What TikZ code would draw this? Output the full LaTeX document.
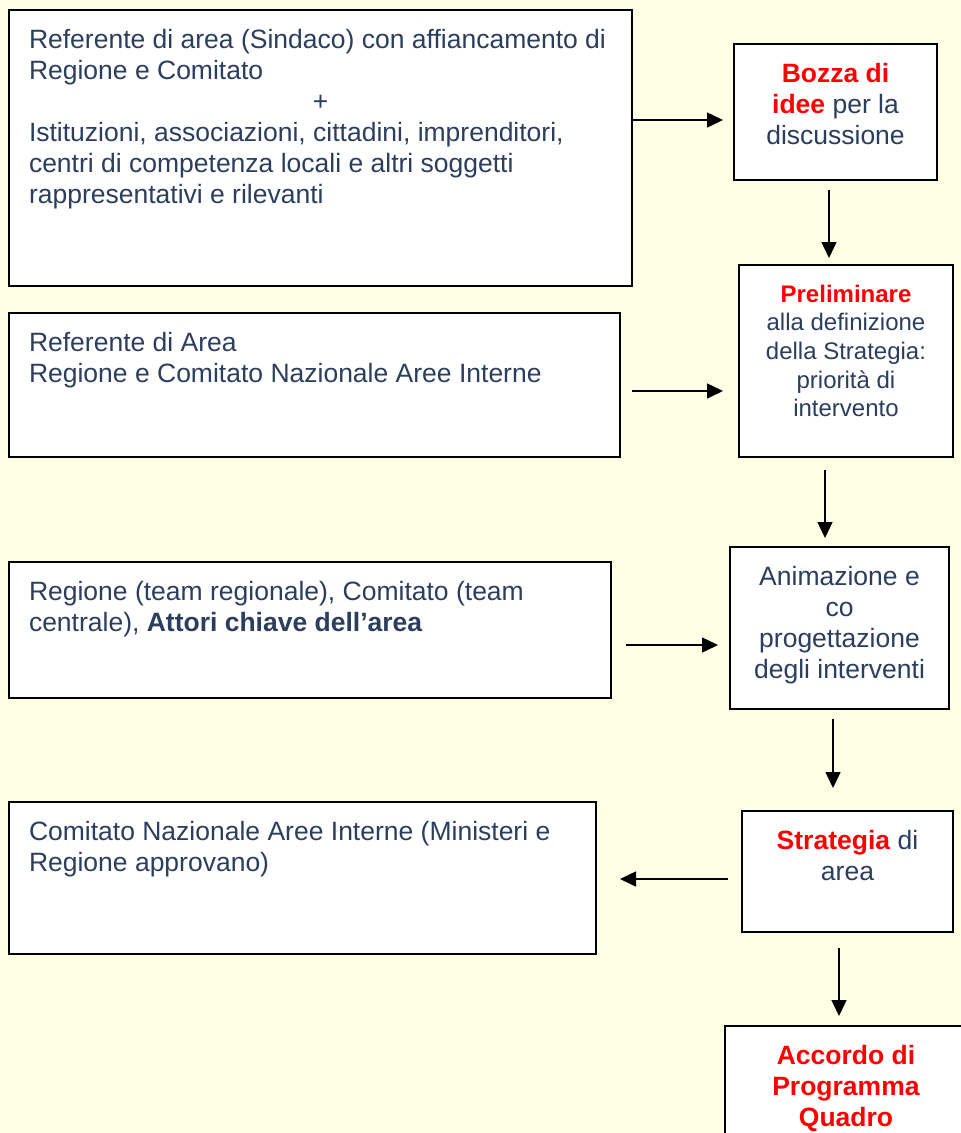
\documentclass[tikz,border=0pt]{standalone}
\usepackage{fontspec}
\setmainfont{Liberation Sans}
\usetikzlibrary{arrows.meta}
\definecolor{bgyellow}{RGB}{255,255,229}
\definecolor{txtblue}{RGB}{43,62,94}
\newcommand{\hot}[1]{\textcolor{red}{\textbf{#1}}}
\newcommand{\topstrut}{\rule{0pt}{\dimexpr0.7\baselineskip+2pt\relax}}
\newcommand{\lefttext}[3]{\parbox[t][#2][t]{#1}{\raggedright\topstrut#3}}
\newcommand{\midtext}[3]{\parbox[t][#2][t]{#1}{\centering\topstrut#3}}

\begin{document}
\begin{tikzpicture}[x=1pt, y=-1pt,
  box/.style={draw, line width=1.8pt, fill=white, anchor=north west, outer sep=0pt,
    inner xsep=20pt, inner ysep=15pt, text=txtblue, font=\fontsize{26.5}{31}\selectfont},
  stepbox/.style={box, inner xsep=10pt},
  arr/.style={-{Triangle[length=16pt,width=15pt]}, line width=1.5pt}]
\useasboundingbox (0,0) rectangle (961,1133);
\fill[bgyellow] (0,0) rectangle (961,1133);

% who takes part
\node[box] (actors) at (9,10) {\lefttext{583pt}{246pt}{Referente di area (Sindaco) con affiancamento di\\
Regione e Comitato\\
\makebox[\linewidth]{+}\\
Istituzioni, associazioni, cittadini, imprenditori,\\
centri di competenza locali e altri soggetti\\
rappresentativi e rilevanti}};
\node[box] (referente) at (9,313) {\lefttext{571pt}{114pt}{Referente di Area\\
Regione e Comitato Nazionale Aree Interne}};
\node[box] (teams) at (9,562) {\lefttext{562pt}{106pt}{Regione (team regionale), Comitato (team\\
centrale), \textbf{Attori chiave dell'area}}};
\node[box] (comitato) at (9,802) {\lefttext{547pt}{122pt}{Comitato Nazionale Aree Interne (Ministeri e\\
Regione approvano)}};

% steps
\node[stepbox] (bozza) at (734,44) {\midtext{183pt}{106pt}{\hot{Bozza di}\\
\hot{idee} per la\\
discussione}};
\node[stepbox, font=\fontsize{24}{28.7}\selectfont] (prelim) at (739,265) {\midtext{194pt}{162pt}{\hot{Preliminare}\\
alla definizione\\
della Strategia:\\
priorità di\\
intervento}};
\node[stepbox] (anim) at (730,547) {\midtext{199pt}{132pt}{Animazione e\\
co\\
progettazione\\
degli interventi}};
\node[stepbox] (strat) at (742,811) {\midtext{191pt}{91pt}{\hot{Strategia} di\\
area}};
\node[stepbox] (accordo) at (725,1026) {\midtext{222pt}{110pt}{\hot{Accordo di}\\
\hot{Programma}\\
\hot{Quadro}}};

% arrows
\draw[arr, shorten >=11pt] ([yshift=-8pt]bozza.west -| actors.east) -- ([yshift=-8pt]bozza.west);
\draw[arr, shorten <=10pt, shorten >=7pt] ([xshift=-6.5pt]bozza.south) -- ([xshift=-6.5pt]bozza.south |- prelim.north);
\draw[arr, shorten <=12pt, shorten >=16pt] ([yshift=-6pt]referente.east) -- ([yshift=-6pt]referente.east -| prelim.west);
\draw[arr, shorten <=13pt, shorten >=9pt] ([xshift=-21pt]prelim.south) -- ([xshift=-21pt]prelim.south |- anim.north);
\draw[arr, shorten <=15pt, shorten >=12pt] ([yshift=-15pt]teams.east) -- ([yshift=-15pt]teams.east -| anim.west);
\draw[arr, shorten <=10pt, shorten >=23pt] ([xshift=-6.5pt]anim.south) -- ([xshift=-6.5pt]anim.south |- strat.north);
\draw[arr, shorten <=14pt, shorten >=24pt] ([yshift=-7.5pt]strat.west) -- ([yshift=-7.5pt]strat.west -| comitato.east);
\draw[arr, shorten <=16pt, shorten >=10pt] ([xshift=-8.5pt]strat.south) -- ([xshift=-8.5pt]strat.south |- accordo.north);
\end{tikzpicture}
\end{document}
